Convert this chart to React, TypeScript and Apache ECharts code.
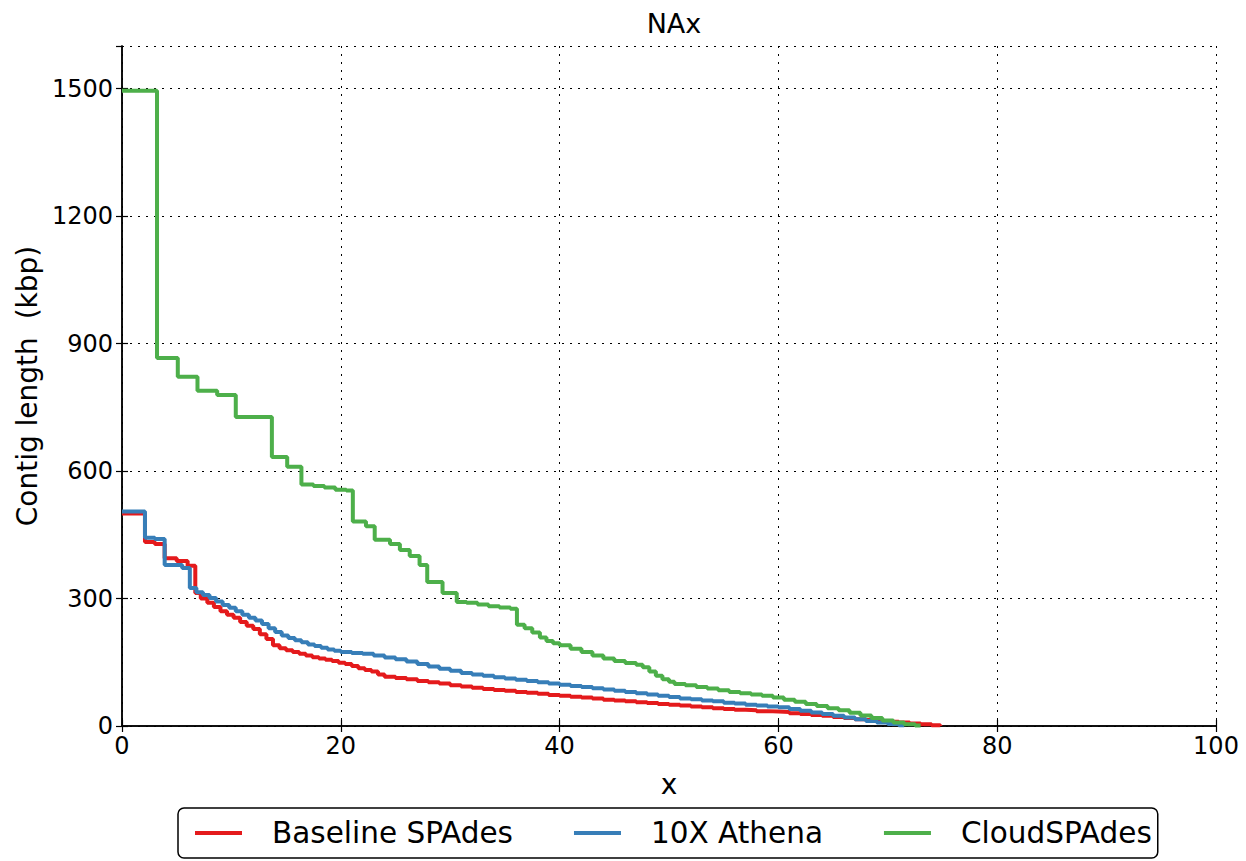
import React, { useEffect, useRef } from "react";
import * as echarts from "echarts";

const title = "NAx";
const xName = "x";
const yName = "Contig length  (kbp)";
const seriesNames = ["Baseline SPAdes", "10X Athena", "CloudSPAdes"];
const colors = ["#e41a1c", "#377eb8", "#4daf4a"];

const baselineX = [0, 2.1, 3.0, 3.9, 5.0, 6.0, 6.7, 7.2, 7.8, 8.4, 9, 9.6, 10.2, 10.8, 11.4, 12, 12.6, 13.2, 13.8, 14.4, 15, 15.6, 16.2, 16.8, 17.4, 18, 18.6, 19.2, 19.8, 20.4, 21, 21.6, 22.2, 22.8, 23.4, 24, 25, 26, 27, 28, 29, 30, 31, 32, 33, 34, 35, 36, 37, 38, 39, 40, 41, 42, 43, 44, 45, 46, 47, 48, 49, 50, 51, 52, 53, 54, 55, 56, 57, 58, 59, 60, 61, 62, 63, 64, 65, 66, 67, 68, 69, 70, 71, 72, 73, 74, 74.8];
const baselineY = [500, 433, 428, 395, 388, 377, 313, 300, 290, 280, 270, 262, 255, 245, 236, 228, 216, 205, 190, 183, 178, 174, 170, 166, 162, 159, 156, 153, 149, 146, 141, 136, 132, 128, 121, 116, 113, 110, 106, 103, 100, 96, 93, 90, 87, 85, 83, 80, 78, 76, 73, 71, 69, 67, 65, 62, 60, 58, 56, 54, 52, 50, 48, 46, 44, 42, 40, 38, 37, 35, 34, 33, 30, 28, 26, 24, 21, 19, 16, 14, 12, 10, 8, 6, 4, 2, 0];

const athenaX = [0, 2.1, 3.0, 3.9, 5.5, 6.2, 6.8, 7.4, 8, 8.6, 9.2, 9.8, 10.4, 11, 11.6, 12.2, 12.8, 13.4, 14, 14.6, 15.2, 15.8, 16.4, 17, 17.6, 18.2, 18.8, 19.4, 20, 21, 22, 23, 24, 25, 26, 27, 28, 29, 30, 31, 32, 33, 34, 35, 36, 37, 38, 39, 40, 41, 42, 43, 44, 45, 46, 47, 48, 49, 50, 51, 52, 53, 54, 55, 56, 57, 58, 59, 60, 61, 62, 63, 64, 65, 66, 67, 68, 69, 70, 71, 71.5];
const athenaY = [505, 443, 440, 379, 372, 325, 315, 308, 301, 293, 285, 278, 270, 262, 255, 248, 240, 230, 221, 213, 207, 202, 197, 192, 188, 184, 180, 177, 174, 172, 170, 166, 161, 157, 152, 146, 140, 135, 130, 125, 121, 118, 115, 112, 109, 106, 103, 100, 97, 94, 92, 89, 86, 83, 80, 77, 74, 71, 68, 65, 63, 60, 58, 55, 53, 50, 48, 46, 44, 40, 36, 32, 28, 24, 20, 16, 12, 8, 5, 2, 0];

const cloudX = [0, 3.2, 5.1, 6.9, 8.7, 10.4, 13.7, 15.1, 16.4, 17.5, 18.5, 19.5, 20.5, 21.1, 22.3, 23.1, 24.5, 25.4, 26.3, 27.2, 27.9, 29.3, 30.6, 31.5, 32.5, 33.5, 34.5, 35.5, 36.1, 36.8, 37.5, 38.2, 38.8, 39.4, 40, 41, 42, 43, 44, 45, 46, 47, 47.6, 48.2, 48.8, 49.4, 50, 50.5, 51.5, 52.5, 53.5, 54.5, 55.5, 56.5, 57.5, 58.5, 59.5, 60.5, 61.5, 62.5, 63.5, 64.5, 65.5, 66.5, 67.5, 68.5, 69.5, 70.5, 71.5, 72.5, 73];
const cloudY = [1495, 866, 822, 789, 779, 727, 633, 610, 568, 565, 561, 556, 554, 481, 470, 438, 428, 414, 400, 379, 339, 313, 292, 290, 286, 282, 279, 276, 238, 230, 220, 208, 200, 195, 190, 182, 174, 166, 159, 153, 148, 144, 138, 128, 118, 110, 104, 99, 96, 92, 88, 84, 80, 77, 74, 71, 67, 62, 57, 52, 47, 42, 37, 31, 25, 19, 13, 8, 4, 1, 0];

const xTicks = [0, 20, 40, 60, 80, 100];
const yTicks = [0, 300, 600, 900, 1200, 1500];

const FONT = "DejaVu Sans";

function pairs(xs: number[], ys: number[]) {
  return xs.map((x, i) => [x, ys[i]]);
}

export default function App() {
  const ref = useRef<HTMLDivElement>(null);
  useEffect(() => {
    if (!ref.current) return;
    const chart = echarts.init(ref.current, null, { renderer: "svg" });
    const xs = [baselineX, athenaX, cloudX];
    const ys = [baselineY, athenaY, cloudY];
    const axisLine = { show: true, lineStyle: { color: "#000", width: 1.5 } };
    const tick = { show: true, inside: true, length: 6, lineStyle: { color: "#000", width: 1.2 } };
    chart.setOption({
      animation: false,
      backgroundColor: "#fff",
      title: {
        text: title,
        left: 669,
        textAlign: "center",
        top: 5,
        textStyle: { fontFamily: FONT, fontSize: 27, fontWeight: "normal", color: "#000" },
      },
      grid: { left: 122, right: 30, top: 46, bottom: 135, containLabel: false },
      legend: {
        left: 178,
        top: 808,
        data: seriesNames,
        icon: "rect",
        itemWidth: 47,
        itemHeight: 4,
        itemGap: 61,
        padding: [10, 6, 10, 17],
        borderColor: "#000",
        borderWidth: 1.5,
        borderRadius: 6,
        textStyle: { fontFamily: FONT, fontSize: 29.5, color: "#000", padding: [0, 0, 0, 25] },
      },
      xAxis: [
        {
          type: "value",
          min: 0,
          max: 100,
          interval: 20,
          name: xName,
          nameLocation: "middle",
          nameGap: 44,
          nameTextStyle: { fontFamily: FONT, fontSize: 28, color: "#000" },
          axisLine,
          axisTick: tick,
          axisLabel: {
            fontFamily: FONT,
            fontSize: 24,
            color: "#000",
            margin: 8,
            formatter: (v: number) => (xTicks.includes(v) ? String(v) : ""),
          },
          splitLine: { show: true, lineStyle: { color: "#000", type: [2, 6], width: 1 } },
        },
        {
          type: "value",
          position: "top",
          min: 0,
          max: 100,
          interval: 20,
          axisLine,
          axisTick: tick,
          axisLabel: { show: false },
          splitLine: { show: false },
        },
      ],
      yAxis: [
        {
          type: "value",
          min: 0,
          max: 1600,
          interval: 300,
          name: yName,
          nameLocation: "middle",
          nameGap: 80,
          nameRotate: 90,
          nameTextStyle: { fontFamily: FONT, fontSize: 28, color: "#000" },
          axisLine,
          axisTick: tick,
          axisLabel: {
            fontFamily: FONT,
            fontSize: 24,
            color: "#000",
            margin: 9,
            showMaxLabel: false,
            formatter: (v: number) => (yTicks.includes(v) ? String(v) : ""),
          },
          splitLine: { show: true, lineStyle: { color: "#000", type: [2, 6], width: 1 } },
        },
        {
          type: "value",
          position: "right",
          min: 0,
          max: 1600,
          interval: 300,
          axisLine,
          axisTick: tick,
          axisLabel: { show: false },
          splitLine: { show: false },
        },
      ],
      series: seriesNames.map((name, i) => ({
        name,
        type: "line",
        step: "end",
        showSymbol: false,
        symbol: "none",
        data: pairs(xs[i], ys[i]),
        color: colors[i],
        lineStyle: { color: colors[i], width: 4 },
        xAxisIndex: 0,
        yAxisIndex: 0,
      })),
    });
    return () => chart.dispose();
  }, []);
  return (
    <div
      ref={ref}
      style={{ position: "fixed", left: 0, top: 0, width: 1246, height: 861, background: "#fff" }}
    />
  );
}
